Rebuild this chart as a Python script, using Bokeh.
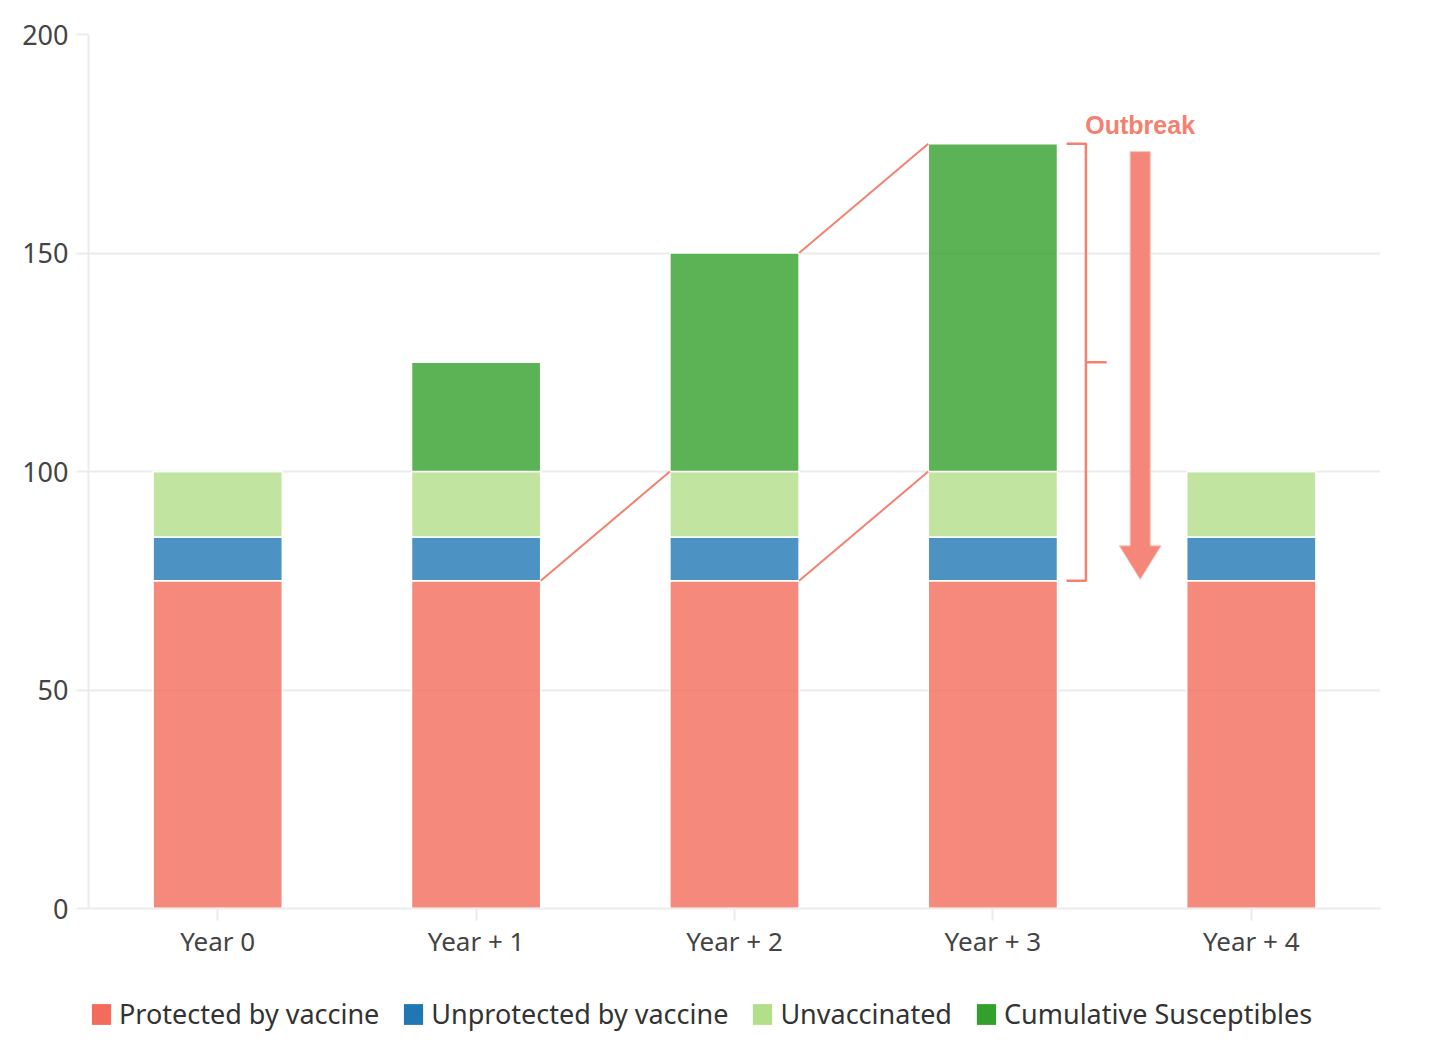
from bokeh.plotting import figure
from bokeh.layouts import column
from bokeh.models import Range1d, FixedTicker, Legend, LegendItem, ColumnDataSource
from bokeh.core.properties import value
from bokeh.embed import file_html
from bokeh.resources import INLINE

years = ["Year 0", "Year + 1", "Year + 2", "Year + 3", "Year + 4"]
protected = [75, 75, 75, 75, 75]
unprotected = [10, 10, 10, 10, 10]
unvaccinated = [15, 15, 15, 15, 15]
cumulative = [0, 25, 50, 75, 0]

series = ["protected", "unprotected", "unvaccinated", "cumulative"]
labels = ["Protected by vaccine", "Unprotected by vaccine", "Unvaccinated", "Cumulative Susceptibles"]
colors = ["#f26b5b", "#1f77b4", "#b2df8a", "#33a02c"]
y_ticks = [0, 50, 100, 150, 200]

FONT = "Noto Sans"
ANN = "#f4806f"
BAR_W = 0.5

xs = [i + 0.5 for i in range(len(years))]
src = ColumnDataSource(dict(x=xs, protected=protected, unprotected=unprotected,
                            unvaccinated=unvaccinated, cumulative=cumulative))

p = figure(width=1447, height=961, output_backend="svg", toolbar_location=None,
           x_range=Range1d(0, len(years)), y_range=Range1d(0, 200),
           min_border_left=88, min_border_right=67, min_border_top=34, min_border_bottom=53)
p.outline_line_color = None
p.background_fill_color = "white"
p.border_fill_color = "white"

renderers = p.vbar_stack(series, x="x", width=BAR_W, source=src, fill_color=colors,
                         fill_alpha=0.8, line_color="white", line_width=1.5)

# axes
p.xaxis.ticker = FixedTicker(ticks=xs)
p.xaxis.major_label_overrides = {x: y for x, y in zip(xs, years)}
p.yaxis.ticker = FixedTicker(ticks=y_ticks)
for ax in (p.xaxis[0], p.yaxis[0]):
    ax.axis_line_color = "#ebebeb"
    ax.axis_line_width = 2
    ax.major_tick_line_color = "#ebebeb"
    ax.major_tick_line_width = 2
    ax.major_tick_out = 12
    ax.major_tick_in = 0
    ax.minor_tick_line_color = None
    ax.major_label_text_font = FONT
    ax.major_label_text_font_size = "26px"
    ax.major_label_text_color = "#444444"
p.yaxis.major_label_text_font_size = "27px"
p.xaxis.major_label_standoff = 2
p.yaxis.major_label_standoff = 8
p.xgrid.grid_line_color = None
p.ygrid.grid_line_color = "#ebebeb"
p.ygrid.grid_line_width = 2

# connector lines between bars
half = BAR_W / 2
tot = [a + b + c for a, b, c in zip(protected, unprotected, unvaccinated)]
seg_x0 = [xs[1] + half, xs[2] + half, xs[2] + half]
seg_y0 = [protected[1], tot[2] + cumulative[2], protected[2]]
seg_x1 = [xs[2] - half, xs[3] - half, xs[3] - half]
seg_y1 = [tot[2], tot[3] + cumulative[3], tot[3]]
p.segment(x0=seg_x0, y0=seg_y0, x1=seg_x1, y1=seg_y1, line_color=ANN, line_width=2)

# bracket
top = tot[3] + cumulative[3]
bot = protected[3]
bx = xs[3] + 0.36
p.multi_line(xs=[[xs[3] + 0.285, bx, bx, xs[3] + 0.285], [bx, bx + 0.08]],
             ys=[[top, top, bot, bot], [(top + bot) / 2, (top + bot) / 2]],
             line_color=ANN, line_width=2.5)

# arrow
ax_ = xs[3] + 0.57
sw = 0.039
hw = 0.081
head_base = bot + 8
p.patch(x=[ax_ - sw, ax_ + sw, ax_ + sw, ax_ + hw, ax_, ax_ - hw, ax_ - sw],
        y=[top - 1.8, top - 1.8, head_base, head_base, bot + 0.3, head_base, head_base],
        fill_color="#f4877a", line_color="#fbc5bd", line_width=1)
p.text(x=[ax_], y=[top + 4.3], text=["Outbreak"], text_align="center", text_baseline="middle",
       text_font=value("Liberation Sans"), text_font_style="bold", text_font_size="25px",
       text_color=ANN)

# legend in its own strip below the chart
lf = figure(width=1447, height=87, output_backend="svg", toolbar_location=None,
            x_axis_type=None, y_axis_type=None, x_range=Range1d(0, 1), y_range=Range1d(0, 1),
            min_border=0)
lf.outline_line_color = None
lf.grid.grid_line_color = None
dummies = [lf.vbar(x=[0], top=[0], width=0, fill_color=c, line_color=None) for c in colors]
items = [LegendItem(label=l, renderers=[r]) for l, r in zip(labels, dummies)]
legend = Legend(items=items, orientation="horizontal", location=(1, 16),
                label_text_font=FONT, label_text_font_size="27px", label_text_color="#333333",
                glyph_width=24, glyph_height=26, label_standoff=6, spacing=22,
                border_line_color=None, background_fill_alpha=0, padding=0, margin=0)
lf.add_layout(legend, "center")

layout = column(p, lf, spacing=0)
open("out.html", "w").write(file_html(layout, INLINE))
